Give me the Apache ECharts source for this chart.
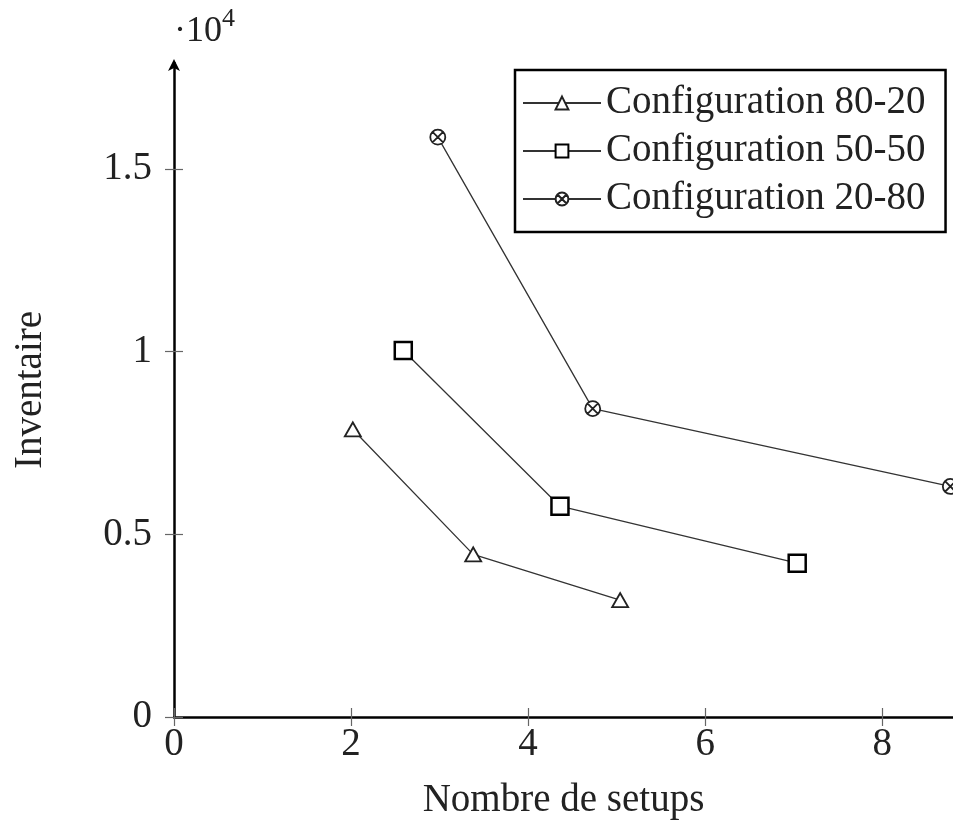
<!DOCTYPE html>
<html>
<head>
<meta charset="utf-8">
<script src="https://cdn.jsdelivr.net/npm/echarts@6/dist/echarts.min.js"></script>
<style>html,body{margin:0;padding:0;background:#fff;}#c{width:953px;height:825px;}</style>
</head>
<body>
<div id="c"></div>
<script>
var seriesNames = ['Configuration 80-20', 'Configuration 50-50', 'Configuration 20-80'];
var x8020 = [2.02, 3.38, 5.04];
var y8020 = [7870, 4450, 3200];
var x5050 = [2.59, 4.36, 7.04];
var y5050 = [10030, 5770, 4210];
var x2080 = [2.98, 4.73, 8.77];
var y2080 = [15870, 8440, 6310];
var xTicks = [0, 2, 4, 6, 8];
var yTicks = [0, 5000, 10000, 15000];

function pairs(xs, ys) { return xs.map(function (x, i) { return [x, ys[i]]; }); }

var FONT = 'Liberation Serif';
var FS = 39;
var otimes = 'path://M0,-10 A10,10 0 1,1 0,10 A10,10 0 1,1 0,-10 Z M-7.07,-7.07 L7.07,7.07 M7.07,-7.07 L-7.07,7.07';

var chart = echarts.init(document.getElementById('c'), null, {renderer: 'canvas'});
var baseX = {
  type: 'value', min: 0, max: 8.8, interval: 2, position: 'bottom',
  splitLine: {show: false}
};
var baseY = {
  type: 'value', min: 0, max: 17900, interval: 5000, position: 'left',
  splitLine: {show: false}
};
var tickStyle = {color: '#666', width: 1.2};
chart.setOption({
  animation: false,
  backgroundColor: '#fff',
  grid: {left: 174, right: 0, top: 63, bottom: 107, containLabel: false},
  xAxis: [
    Object.assign({}, baseX, {
      name: 'Nombre de setups', nameLocation: 'middle', nameGap: 64,
      nameTextStyle: {fontFamily: FONT, fontSize: FS, color: '#222'},
      axisLine: {show: true, onZero: false, lineStyle: {color: '#000', width: 2.5}},
      axisTick: {show: true, inside: false, length: 9, customValues: xTicks, lineStyle: tickStyle},
      axisLabel: {fontFamily: FONT, fontSize: FS, color: '#222', margin: 8, customValues: xTicks}
    }),
    Object.assign({}, baseX, {
      axisLine: {show: false, onZero: false},
      axisTick: {show: true, inside: true, length: 9, customValues: xTicks, lineStyle: tickStyle},
      axisLabel: {show: false}
    })
  ],
  yAxis: [
    Object.assign({}, baseY, {
      name: 'Inventaire', nameLocation: 'middle', nameGap: 124, nameRotate: 90,
      nameTextStyle: {fontFamily: FONT, fontSize: FS, color: '#222'},
      axisLine: {show: true, onZero: false, symbol: ['none', 'arrow'], symbolSize: [9, 12], symbolOffset: [0, 4],
        lineStyle: {color: '#000', width: 2.5}},
      axisTick: {show: true, inside: false, length: 9, customValues: yTicks, lineStyle: tickStyle},
      axisLabel: {fontFamily: FONT, fontSize: FS, color: '#222', margin: 22, customValues: yTicks,
        formatter: function (v) { return String(v / 10000); }}
    }),
    Object.assign({}, baseY, {
      axisLine: {show: false, onZero: false},
      axisTick: {show: true, inside: true, length: 9, customValues: yTicks, lineStyle: tickStyle},
      axisLabel: {show: false}
    })
  ],
  legend: {
    show: true, orient: 'vertical', left: 515, top: 70,
    padding: [13, 20, 13, 7], itemGap: 8, itemWidth: 78, itemHeight: 16,
    backgroundColor: '#fff', borderColor: '#000', borderWidth: 2.5, borderRadius: 0,
    textStyle: {fontFamily: FONT, fontSize: FS, color: '#222', lineHeight: 40},
    data: seriesNames
  },
  graphic: [
    {type: 'text', left: 174, top: 14, style: {text: '·10', fontFamily: FONT, fontSize: 36, fill: '#222'}},
    {type: 'text', left: 222, top: 6, style: {text: '4', fontFamily: FONT, fontSize: 26, fill: '#222'}}
  ],
  series: [
    {
      name: seriesNames[0], type: 'line', data: pairs(x8020, y8020),
      symbol: 'triangle', symbolSize: [16, 14],
      lineStyle: {color: '#333', width: 1.3},
      itemStyle: {color: '#fff', borderColor: '#222', borderWidth: 1.8}, z: 3
    },
    {
      name: seriesNames[1], type: 'line', data: pairs(x5050, y5050),
      symbol: 'rect', symbolSize: 17,
      lineStyle: {color: '#333', width: 1.3},
      itemStyle: {color: '#fff', borderColor: '#000', borderWidth: 2.5}, z: 3
    },
    {
      name: seriesNames[2], type: 'line', data: pairs(x2080, y2080),
      symbol: otimes, symbolSize: 15,
      lineStyle: {color: '#333', width: 1.3},
      itemStyle: {color: '#fff', borderColor: '#222', borderWidth: 1.8}, z: 3
    }
  ]
});
</script>
</body>
</html>
